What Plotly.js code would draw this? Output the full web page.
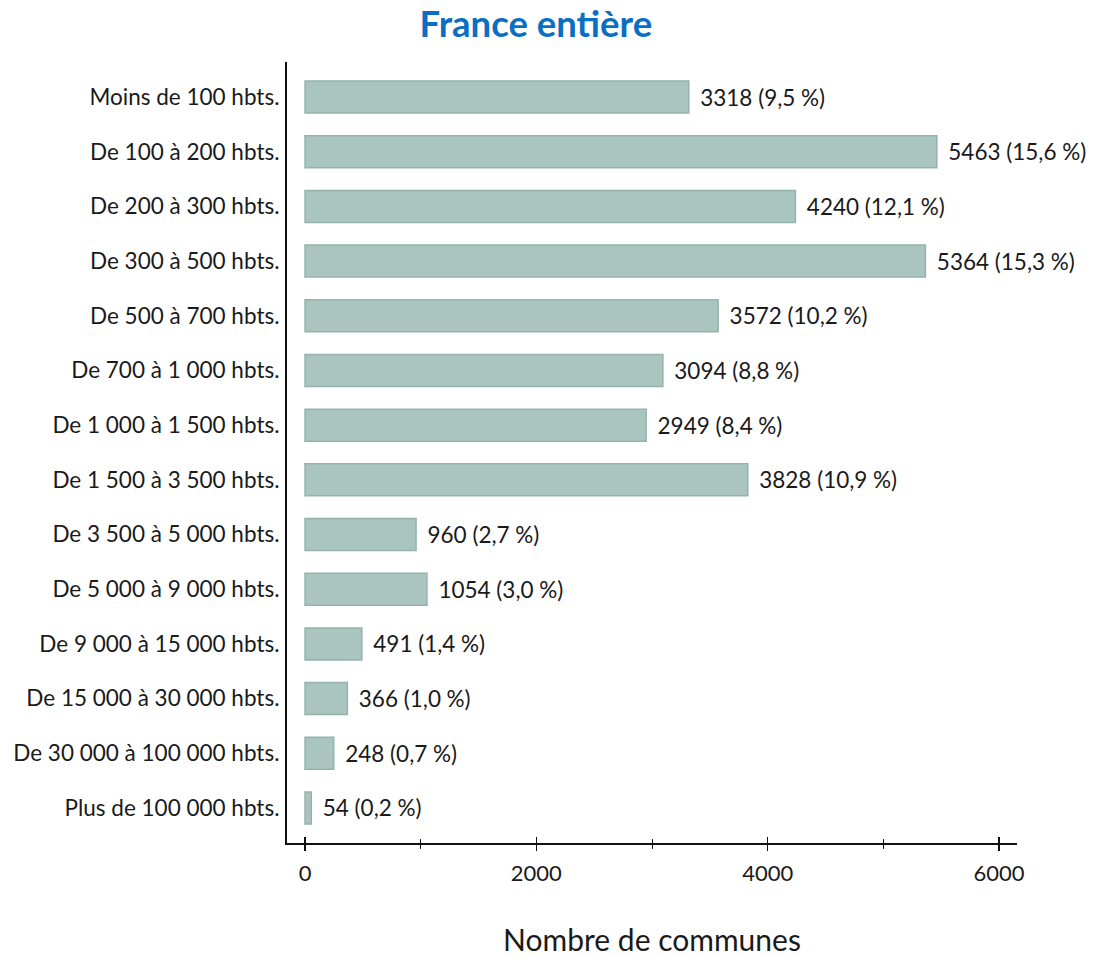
<!DOCTYPE html>
<html><head><meta charset="utf-8">
<script src="https://cdn.plot.ly/plotly-3.0.1.min.js"></script>
<style>body{margin:0;background:#fff}#c{width:1114px;height:957px}</style>
</head><body><div id="c"></div>
<script>
var categories = ["Moins de 100 hbts.","De 100 à 200 hbts.","De 200 à 300 hbts.","De 300 à 500 hbts.","De 500 à 700 hbts.","De 700 à 1 000 hbts.","De 1 000 à 1 500 hbts.","De 1 500 à 3 500 hbts.","De 3 500 à 5 000 hbts.","De 5 000 à 9 000 hbts.","De 9 000 à 15 000 hbts.","De 15 000 à 30 000 hbts.","De 30 000 à 100 000 hbts.","Plus de 100 000 hbts."];
var counts = [3318,5463,4240,5364,3572,3094,2949,3828,960,1054,491,366,248,54];
var percents = ["9,5","15,6","12,1","15,3","10,2","8,8","8,4","10,9","2,7","3,0","1,4","1,0","0,7","0,2"];
var xTicks = [0,2000,4000,6000];
var minorTicks = [1000,3000,5000];

var font = "Lato, 'Noto Sans', sans-serif";
var labels = counts.map(function(v,i){ return "\u2009\u2009\u2009" + v + " (" + percents[i] + "\u202F%)"; });

var trace = {
  type: "bar", orientation: "h",
  x: counts, y: categories,
  text: labels, textposition: "outside", cliponaxis: false,
  textfont: {family: font, size: 22.5, color: "#1a1a1a"},
  marker: {color: "#aac4bf", line: {color: "#94b3ac", width: 1.5}},
  width: 0.585, hoverinfo: "skip"
};
var tickTrace = {type:"scatter", x:[0], y:[categories[0]], xaxis:"x2", mode:"none", showlegend:false, hoverinfo:"skip"};

var range = [-156, 6156];
var layout = {
  width: 1114, height: 957,
  margin: {l: 287, r: 97, t: 62, b: 114},
  paper_bgcolor: "#fff", plot_bgcolor: "#fff",
  showlegend: false,
  title: {text: "<b>France entière</b>", font: {family: font, size: 36.5, color: "#0a6fc2"}, x: 0.481, xanchor: "center", y: 0.975, yanchor: "middle", xref: "container"},
  xaxis: {range: range, tickvals: xTicks, ticktext: xTicks.map(String), ticks: "outside", ticklen: 6, tickwidth: 1.2, tickcolor: "#111",
    showline: true, linecolor: "#111", linewidth: 2, showgrid: false, zeroline: false,
    ticklabelstandoff: 4,
    tickfont: {family: font, size: 22, color: "#1a1a1a"},
    minor: {tickvals: minorTicks, ticks: "outside", ticklen: 4, tickcolor: "#111", tickwidth: 1, showgrid: false},
    title: {text: "Nombre de communes", font: {family: font, size: 30, color: "#1a1a1a"}, standoff: 48}},
  xaxis2: {range: range, overlaying: "x", anchor: "y", side: "bottom", tickvals: xTicks, showticklabels: false,
    ticks: "inside", ticklen: 6, tickwidth: 1.2, tickcolor: "#111", showline: false, showgrid: false, zeroline: false,
    minor: {tickvals: minorTicks, ticks: "inside", ticklen: 4, tickcolor: "#111", tickwidth: 1, showgrid: false}},
  yaxis: {type: "category", categoryorder: "array", categoryarray: categories, autorange: false, range: [13.64, -0.64],
    showline: true, linecolor: "#111", linewidth: 2, ticks: "", showgrid: false, zeroline: false,
    ticklabelstandoff: 1,
    tickfont: {family: font, size: 22.5, color: "#1a1a1a"}}
};
Plotly.newPlot("c", [trace, tickTrace], layout, {displayModeBar: false, staticPlot: true});
</script></body></html>
